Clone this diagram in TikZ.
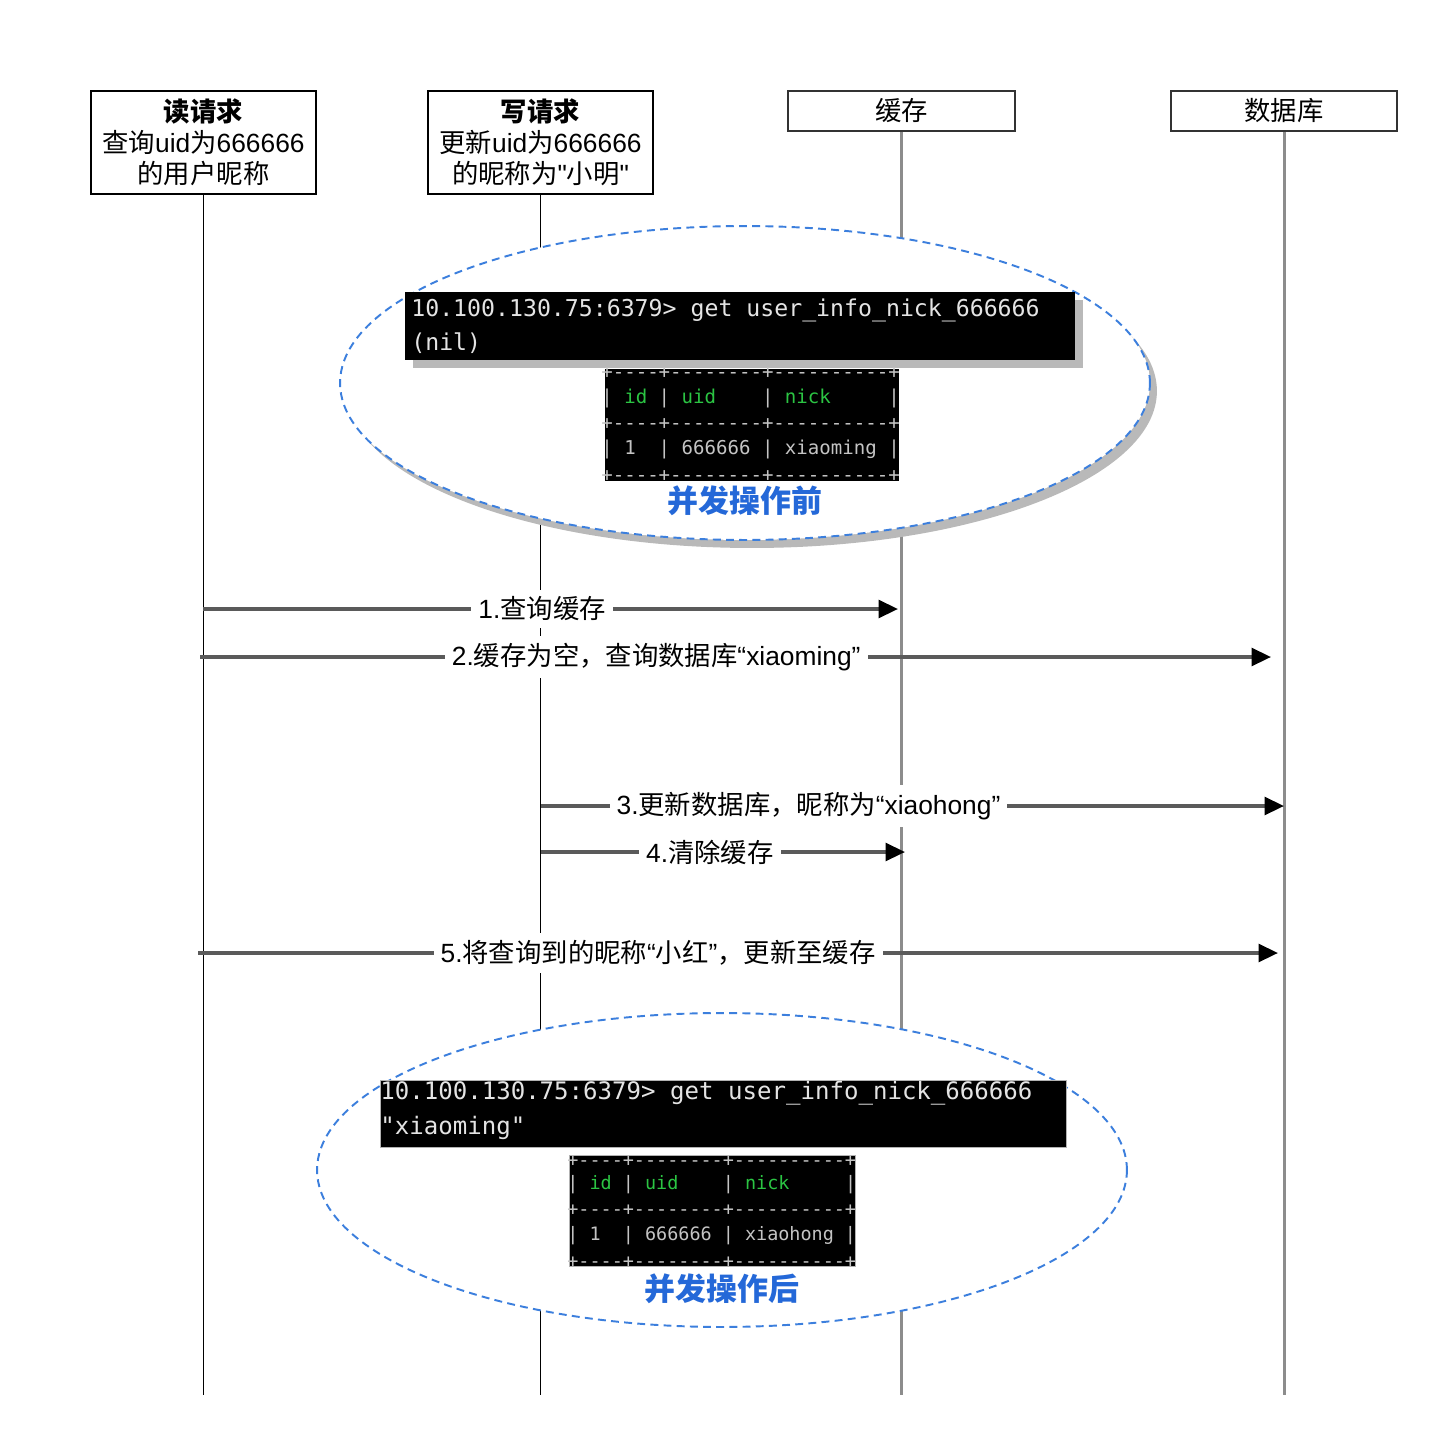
\documentclass[tikz,border=0pt]{standalone}
\usepackage{fontspec}
\setmainfont{Noto Sans CJK SC}
\newfontfamily\lat{Liberation Sans}
\newfontfamily\term{DejaVu Sans Mono}[Ligatures=TeXOff]
\usetikzlibrary{arrows.meta}
\usetikzlibrary{positioning}
\usepackage{xcolor}

\definecolor{dashblue}{HTML}{3C7FDD}
\definecolor{tagblue}{HTML}{2468D8}
\definecolor{msggray}{HTML}{5A5A5A}
\definecolor{lifegray}{HTML}{8C8C8C}
\definecolor{termgreen}{HTML}{2BC443}
\definecolor{termtext}{HTML}{E4E4E4}
\definecolor{tblgray}{HTML}{C4C4C4}

\tikzset{
	actor/.style={draw, line width=1.1pt, align=center, inner sep=0pt, minimum width=4.5cm,
		font=\fontsize{15}{17.6}\selectfont},
	life/.style={line width=1.1pt},
	lifegrey/.style={draw=lifegray, line width=1.7pt},
	msg/.style={draw=msggray, line width=2pt, -{Triangle[length=11pt, width=10pt, color=black]}},
	msglabel/.style={fill=white, inner sep=4pt, text=black, font=\fontsize{15}{17.6}\selectfont},
	oval/.style={draw=dashblue, fill=white, line width=1.1pt, dash pattern=on 4.5pt off 3pt},
	cli/.style={anchor=west, inner sep=0pt, text=termtext},
	tbl/.style={anchor=west, inner sep=0pt, text=tblgray},
	tag/.style={text=tagblue, font=\fontsize{17.6}{20}\selectfont\bfseries}
}

\newcommand{\hd}[1]{\textcolor{termgreen}{#1}}

\begin{document}
\begin{tikzpicture}[x=0.02cm, y=-0.02cm]
	\useasboundingbox (0,0) rectangle (1444,1440);
	
	%participants
	\node[actor, minimum height=2.06cm] (read) at (203.5,142.5)
		{{\bfseries 读请求}\\查询{\lat uid}为{\lat 666666}\\的用户昵称};
	\node[actor, minimum height=2.06cm] (write) at (540.5,142.5)
		{{\bfseries 写请求}\\更新{\lat uid}为{\lat 666666}\\的昵称为{\lat "}小明{\lat "}};
	\node[actor, draw=black!80, minimum width=4.54cm, minimum height=0.8cm] (cache) at (901.5,111) {缓存};
	\node[actor, draw=black!80, minimum width=4.52cm, minimum height=0.8cm] (db) at (1284,111) {数据库};
	
	%lifelines
	\coordinate (readend) at (203.5,1395);
	\coordinate (writeend) at (540.5,1395);
	\coordinate (cacheend) at (901.5,1395);
	\coordinate (dbend) at (1284,1395);
	\draw[life] (read.south) -- (readend);
	\draw[life] (write.south) -- (writeend);
	\draw[lifegrey] (cache.south) -- (cacheend);
	\draw[lifegrey] (db.south) -- (dbend);
	
	%before
	\fill[gray!55] (752,391) ellipse [x radius=8.1cm, y radius=3.14cm];
	\draw[oval] (745,383) ellipse [x radius=8.1cm, y radius=3.14cm];
	\fill[gray!55] (413,300) rectangle (1083,368);
	\fill[black] (405,292) rectangle (1075,360);
	\node[cli, font=\term\fontsize{13.2}{16}\selectfont] (cli1a) at (411,310) {10.100.130.75:6379> get user\_info\_nick\_666666};
	\node[cli, font=\term\fontsize{13.2}{16}\selectfont] (cli1b) at (411,343) {(nil)};
	
	\fill[black] (605,369) rectangle (899,481);
	\node[tbl, font=\term\fontsize{10.85}{13}\selectfont] (t1a) at (601,373) {+----+--------+----------+};
	\node[tbl, font=\term\fontsize{10.85}{13}\selectfont] (t1b) at (601,398) {|~\hd{id}~|~\hd{uid}~~~~|~\hd{nick}~~~~~|};
	\node[tbl, font=\term\fontsize{10.85}{13}\selectfont] (t1c) at (601,424) {+----+--------+----------+};
	\node[tbl, font=\term\fontsize{10.85}{13}\selectfont] (t1d) at (601,449) {|~1~~|~666666~|~xiaoming~|};
	\node[tbl, font=\term\fontsize{10.85}{13}\selectfont] (t1e) at (601,476) {+----+--------+----------+};
	\node[tag] (before) at (745,501) {并发操作前};
	
	%arrows
	\coordinate (m1s) at (203,609);  \coordinate (m1e) at (898,609);
	\coordinate (m2s) at (200,657);  \coordinate (m2e) at (1271,657);
	\coordinate (m3s) at (541,806);  \coordinate (m3e) at (1284,806);
	\coordinate (m4s) at (541,852);  \coordinate (m4e) at (905,852);
	\coordinate (m5s) at (198,953);  \coordinate (m5e) at (1278,953);
	
	\draw[msg] (m1s) -- node[msglabel, pos=0.488] (l1) {{\lat 1.}查询缓存} (m1e);
	\draw[msg] (m2s) -- node[msglabel, pos=0.426] (l2) {{\lat 2.}缓存为空，查询数据库{\lat “xiaoming”}} (m2e);
	\draw[msg] (m3s) -- node[msglabel, pos=0.36] (l3) {{\lat 3.}更新数据库，昵称为{\lat “xiaohong”}} (m3e);
	\draw[msg] (m4s) -- node[msglabel, pos=0.464] (l4) {{\lat 4.}清除缓存} (m4e);
	\draw[msg] (m5s) -- node[msglabel, pos=0.426] (l5) {{\lat 5.}将查询到的昵称{\lat “}小红{\lat ”}，更新至缓存} (m5e);
	
	%after
	\draw[oval] (722,1170) ellipse [x radius=8.1cm, y radius=3.14cm];
	\filldraw[black, draw=gray!60] (380,1080) rectangle (1066,1147);
	\node[cli, font=\term\fontsize{13.7}{16}\selectfont] (cli2a) at (380,1093) {10.100.130.75:6379> get user\_info\_nick\_666666};
	\node[cli, font=\term\fontsize{13.7}{16}\selectfont] (cli2b) at (380,1128) {"xiaoming"};
	
	\filldraw[black, draw=gray!60] (569,1155) rectangle (855,1266);
	\node[tbl, font=\term\fontsize{10.5}{13}\selectfont] (t2a) at (567,1161) {+----+--------+----------+};
	\node[tbl, font=\term\fontsize{10.5}{13}\selectfont] (t2b) at (567,1185) {|~\hd{id}~|~\hd{uid}~~~~|~\hd{nick}~~~~~|};
	\node[tbl, font=\term\fontsize{10.5}{13}\selectfont] (t2c) at (567,1210) {+----+--------+----------+};
	\node[tbl, font=\term\fontsize{10.5}{13}\selectfont] (t2d) at (567,1236) {|~1~~|~666666~|~xiaohong~|};
	\node[tbl, font=\term\fontsize{10.5}{13}\selectfont] (t2e) at (567,1262) {+----+--------+----------+};
	\node[tag] (after) at (722,1289) {并发操作后};
	
\end{tikzpicture}
\end{document}
